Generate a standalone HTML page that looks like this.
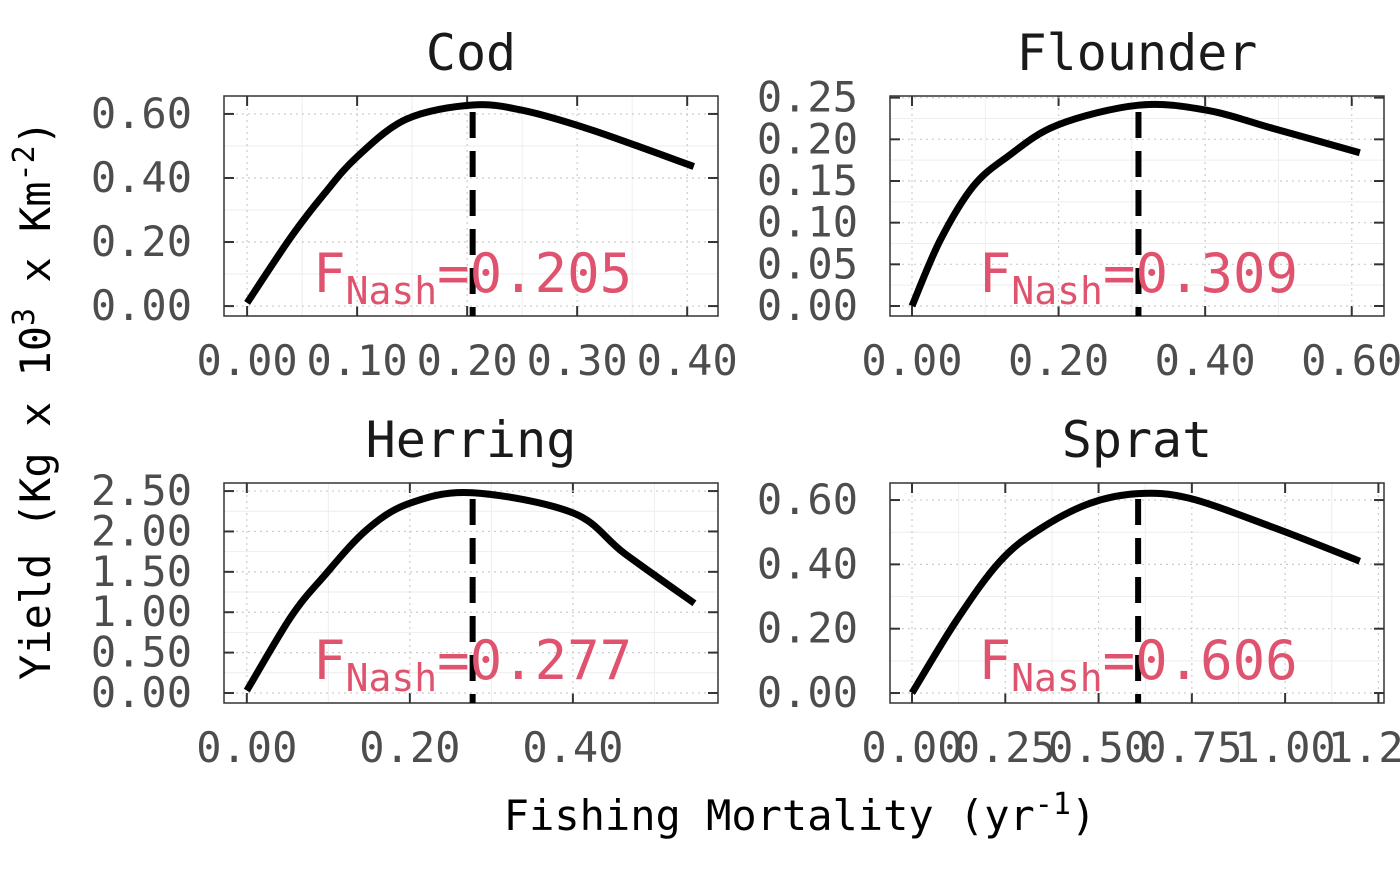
<!DOCTYPE html>
<html><head><meta charset="utf-8"><style>
body{margin:0;background:#fff}
svg text{font-family:"DejaVu Sans Mono","Liberation Mono",monospace}
</style></head><body>
<svg id="c" width="1400" height="865" viewBox="0 0 1400 865" xmlns="http://www.w3.org/2000/svg">
<text x="50" y="400" font-size="42" fill="#000" text-anchor="middle" transform="rotate(-90 50 400)">Yield (Kg x 10<tspan dy="-16" font-size="30">3</tspan><tspan dy="16"> x Km</tspan><tspan dy="-16" font-size="30">-2</tspan><tspan dy="16">)</tspan></text>
<text x="800" y="830" font-size="42" fill="#000" text-anchor="middle">Fishing Mortality (yr<tspan dy="-16" font-size="30">-1</tspan><tspan dy="16">)</tspan></text>
</svg>
<script>
const codX=[0,0.04,0.07,0.1,0.145,0.205,0.252,0.313,0.406];
const codY=[0.01,0.216,0.35,0.466,0.584,0.628,0.61,0.55,0.436];
const flX=[0,0.038,0.083,0.13,0.198,0.309,0.402,0.493,0.611];
const flY=[0,0.078,0.143,0.179,0.217,0.241,0.235,0.213,0.184];
const heX=[0,0.054,0.094,0.147,0.2,0.277,0.4,0.463,0.549];
const heY=[0.03,0.94,1.44,2.02,2.35,2.48,2.23,1.73,1.11];
const spX=[0,0.12,0.236,0.343,0.477,0.606,0.745,0.968,1.2];
const spY=[0,0.227,0.41,0.51,0.59,0.62,0.605,0.515,0.41];
const nashF=[0.205,0.309,0.277,0.606];
const names=["Cod","Flounder","Herring","Sprat"];
const xTicks=[[0,0.1,0.2,0.3,0.4],[0,0.2,0.4,0.6],[0,0.2,0.4],[0,0.25,0.5,0.75,1.0,1.25]];
const yTicks=[[0,0.2,0.4,0.6],[0,0.05,0.1,0.15,0.2,0.25],[0,0.5,1,1.5,2,2.5],[0,0.2,0.4,0.6]];
const xMin=[-0.021,-0.03,-0.028,-0.059];
const xMax=[0.428,0.644,0.578,1.265];
const yMin=[-0.031,-0.012,-0.124,-0.031];
const yMax=[0.656,0.252,2.60,0.653];
const xs=[codX,flX,heX,spX], ys=[codY,flY,heY,spY];
const boxes=[[224,96,718,316],[890,96,1384,316],[224,483,718,703],[890,483,1384,703]];
const NS="http://www.w3.org/2000/svg", svg=document.getElementById('c');
function el(t,a,p){const e=document.createElementNS(NS,t);for(const k in a)e.setAttribute(k,a[k]);(p||svg).appendChild(e);return e;}
function smooth(P){let d='M'+P[0][0].toFixed(1)+' '+P[0][1].toFixed(1);
  for(let i=0;i<P.length-1;i++){const p0=P[Math.max(0,i-1)],p1=P[i],p2=P[i+1],p3=P[Math.min(P.length-1,i+2)];
    const c1=[p1[0]+(p2[0]-p0[0])/6,p1[1]+(p2[1]-p0[1])/6],c2=[p2[0]-(p3[0]-p1[0])/6,p2[1]-(p3[1]-p1[1])/6];
    d+=' C'+c1.map(v=>v.toFixed(1)).join(' ')+' '+c2.map(v=>v.toFixed(1)).join(' ')+' '+p2[0].toFixed(1)+' '+p2[1].toFixed(1);}
  return d;}
for(let i=0;i<4;i++){
  const [x0,y0,x1,y1]=boxes[i];
  const g=el('g',{});
  
  
  const sx=v=>x0+(v-xMin[i])/(xMax[i]-xMin[i])*(x1-x0);
  const sy=v=>y1-(v-yMin[i])/(yMax[i]-yMin[i])*(y1-y0);
  const xt=xTicks[i], yt=yTicks[i];
  for(let k=0;k<xt.length;k++){const m=xt[k]+(xt[1]-xt[0])/2; if(sx(m)<x1) el('line',{x1:sx(m),x2:sx(m),y1:y0,y2:y1,stroke:'#eee','stroke-width':1},g);}
  for(let k=0;k<yt.length;k++){const m=yt[k]+(yt[1]-yt[0])/2; if(sy(m)>y0) el('line',{x1:x0,x2:x1,y1:sy(m),y2:sy(m),stroke:'#eee','stroke-width':1},g);}
  xt.forEach(v=>{const X=sx(v);
    el('line',{x1:X,x2:X,y1:y0,y2:y1,stroke:'#ccc','stroke-width':1.2,'stroke-dasharray':'2 4'},g);
    el('line',{x1:X,x2:X,y1:y0,y2:y0+10,stroke:'#333','stroke-width':2},g);
    el('line',{x1:X,x2:X,y1:y1,y2:y1-10,stroke:'#333','stroke-width':2},g);
    const t=el('text',{x:X,y:y1+59,'font-size':42,fill:'#4d4d4d','text-anchor':'middle'},g);t.textContent=v.toFixed(2);
    });
  yt.forEach(v=>{const Y=sy(v);
    el('line',{x1:x0,x2:x1,y1:Y,y2:Y,stroke:'#ccc','stroke-width':1.2,'stroke-dasharray':'2 4'},g);
    el('line',{x1:x0,x2:x0+10,y1:Y,y2:Y,stroke:'#333','stroke-width':2},g);
    el('line',{x1:x1,x2:x1-10,y1:Y,y2:Y,stroke:'#333','stroke-width':2},g);
    const t=el('text',{x:x0-32,y:Y+14,'font-size':42,fill:'#4d4d4d','text-anchor':'end'},g);t.textContent=v.toFixed(2);
    });
  el('rect',{x:x0,y:y0,width:x1-x0,height:y1-y0,fill:'none',stroke:'#333','stroke-width':1.5},g);
  const P=xs[i].map((v,k)=>[sx(v),sy(ys[i][k])]);
  const p=el('path',{d:smooth(P),fill:'none',stroke:'#000','stroke-width':7,'stroke-linejoin':'round'},g);
  
  const vx=sx(nashF[i]);
  const vl=el('line',{x1:vx,x2:vx,y1:y0+16,y2:y1,stroke:'#000','stroke-width':6,'stroke-dasharray':'26 13'},g);
  
  const a=el('text',{x:vx,y:y1-24,'font-size':54,fill:'#e0536e','text-anchor':'middle'},g);
  a.innerHTML='F<tspan dy="12" font-size="38">Nash</tspan><tspan dy="-12">=</tspan>'+nashF[i].toFixed(3);
  
  const ti=el('text',{x:(x0+x1)/2,y:y0-26,'font-size':50,fill:'#1a1a1a','text-anchor':'middle'},g);ti.textContent=names[i];
  
}
</script>
</body></html>
